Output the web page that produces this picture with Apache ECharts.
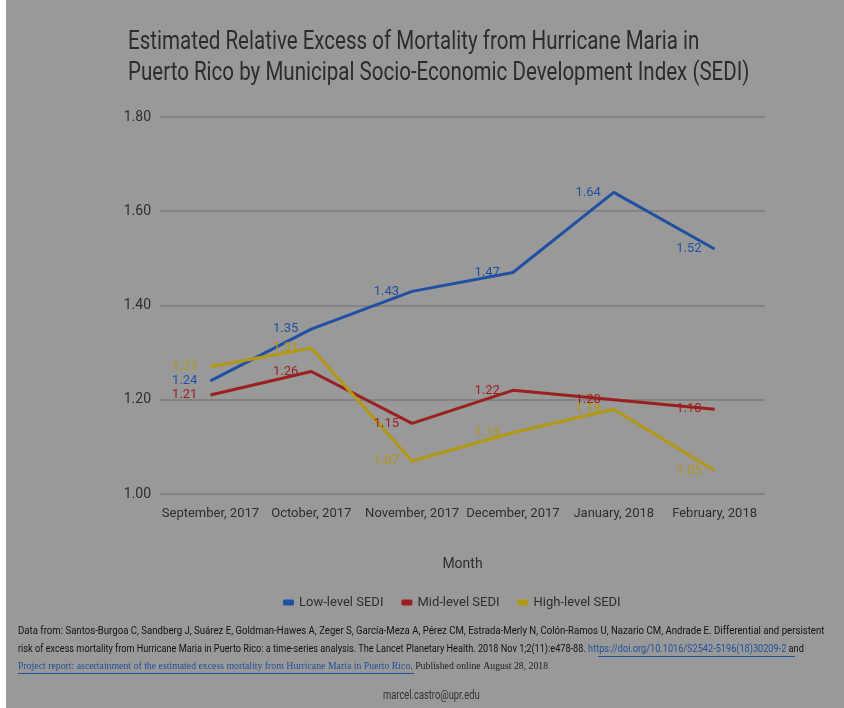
<!DOCTYPE html>
<html>
<head>
<meta charset="utf-8">
<script src="https://cdn.jsdelivr.net/npm/echarts@6/dist/echarts.min.js"></script>
<style>
  html, body { margin: 0; padding: 0; background: #fff; }
  #chart { width: 844px; height: 708px; }
</style>
</head>
<body>
<div id="chart"></div>
<script>
const months = ['September, 2017', 'October, 2017', 'November, 2017', 'December, 2017', 'January, 2018', 'February, 2018'];
const lowSedi = [1.24, 1.35, 1.43, 1.47, 1.64, 1.52];
const midSedi = [1.21, 1.26, 1.15, 1.22, 1.20, 1.18];
const highSedi = [1.27, 1.31, 1.07, 1.13, 1.18, 1.05];

const font = 'Roboto, sans-serif';
const textDark = '#2e2e2e';
const linkBlue = '#1f4f9a';
const colors = { low: '#2150a3', mid: '#99201f', high: '#b39812' };

const chart = echarts.init(document.getElementById('chart'));

function makeSeries(name, data, color) {
  return {
    name,
    type: 'line',
    data,
    symbol: 'circle',
    symbolSize: 0,
    showSymbol: true,
    lineStyle: { width: 3, color },
    itemStyle: { color },
    label: {
      show: true,
      position: 'left',
      distance: 13,
      color,
      fontFamily: font,
      fontSize: 13,
      formatter: (p) => p.value.toFixed(2)
    }
  };
}

// condensed look: scale plain text horizontally
function squeezedText(x, y, text, scaleX, extra) {
  return {
    type: 'text',
    x,
    y,
    scaleX,
    style: Object.assign({ text }, extra)
  };
}

chart.setOption({
  backgroundColor: '#999999',
  animation: false,
  legend: {
    top: 591,
    left: 278,
    itemWidth: 11,
    itemHeight: 6,
    itemGap: 18,
    icon: 'roundRect',
    textStyle: { fontFamily: font, fontSize: 13, color: textDark },
    data: ['Low-level SEDI', 'Mid-level SEDI', 'High-level SEDI']
  },
  grid: { left: 160, right: 79, top: 117, bottom: 214 },
  xAxis: {
    type: 'category',
    data: months,
    boundaryGap: true,
    name: 'Month',
    nameLocation: 'middle',
    nameGap: 63,
    nameTextStyle: { fontFamily: font, fontSize: 14, color: textDark },
    axisLine: { show: false },
    axisTick: { show: false },
    axisLabel: { fontFamily: font, fontSize: 13, color: textDark, margin: 13, interval: 0 }
  },
  yAxis: {
    type: 'value',
    min: 1.0,
    max: 1.8,
    interval: 0.2,
    axisLabel: {
      fontFamily: font,
      fontSize: 14,
      color: textDark,
      margin: 9,
      formatter: (v) => v.toFixed(2)
    },
    splitLine: { lineStyle: { color: '#7c7c7c', width: 1.5 } }
  },
  series: [
    makeSeries('Low-level SEDI', lowSedi, colors.low),
    makeSeries('Mid-level SEDI', midSedi, colors.mid),
    makeSeries('High-level SEDI', highSedi, colors.high)
  ],
  graphic: [
    { type: 'rect', left: 0, top: 0, shape: { width: 6, height: 708 }, style: { fill: '#ffffff' } },
    squeezedText(128, 29, 'Estimated Relative Excess of Mortality from Hurricane Maria in', 0.79,
      { font: '26px Roboto, sans-serif', fill: '#2c2c2c' }),
    squeezedText(128, 60, 'Puerto Rico by Municipal Socio-Economic Development Index (SEDI)', 0.79,
      { font: '26px Roboto, sans-serif', fill: '#2c2c2c' }),
    squeezedText(18, 626,
      'Data from: Santos-Burgoa C, Sandberg J, Suárez E, Goldman-Hawes A, Zeger S, García-Meza A, Pérez CM, Estrada-Merly N, Colón-Ramos U, Nazario CM, Andrade E. Differential and persistent',
      0.874, { font: '11px Roboto, sans-serif', fill: '#111' }),
    squeezedText(18, 644,
      '{t|risk of excess mortality from Hurricane Maria in Puerto Rico: a time-series analysis. The Lancet Planetary Health. 2018 Nov 1;2(11):e478-88. }{a|https://doi.org/10.1016/S2542-5196(18)30209-2}{t| and}',
      0.833, {
        rich: {
          t: { font: '11px Roboto, sans-serif', fill: '#111' },
          a: { font: '11px Roboto, sans-serif', fill: linkBlue }
        }
      }),
    squeezedText(18, 661,
      '{a|Project report: ascertainment of the estimated excess mortality from Hurricane Maria in Puerto Rico}{t|. Published online August 28, 2018}',
      0.89, {
        rich: {
          t: { font: '11px "Liberation Serif", serif', fill: '#222' },
          a: { font: '11px "Liberation Serif", serif', fill: linkBlue }
        }
      }),
    { type: 'rect', left: 18, top: 673, shape: { width: 396, height: 1 }, style: { fill: linkBlue } },
    { type: 'rect', left: 598, top: 656, shape: { width: 197, height: 1 }, style: { fill: linkBlue } },
    squeezedText(383, 690, 'marcel.castro@upr.edu', 0.78,
      { font: '12px Roboto, sans-serif', fill: '#333' })
  ]
});
</script>
</body>
</html>
